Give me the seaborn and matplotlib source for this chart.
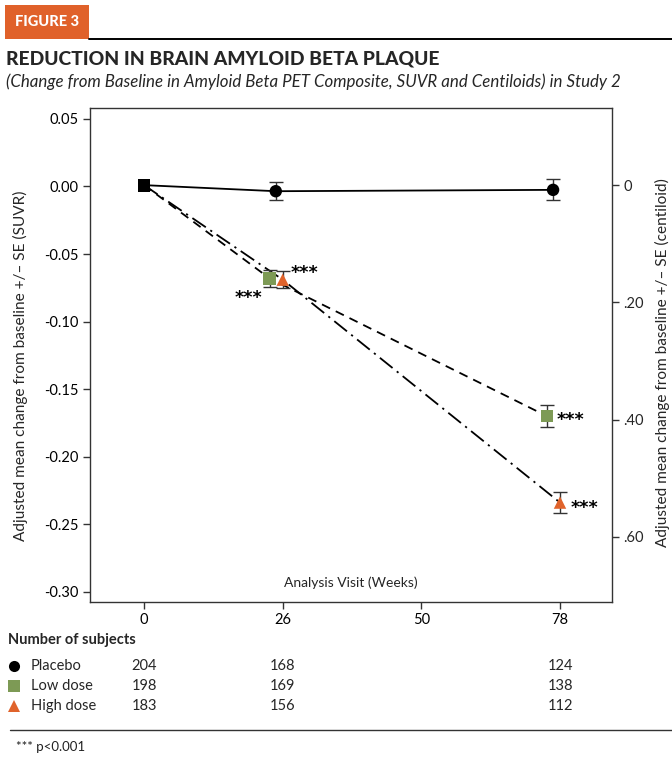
import numpy as np
import pandas as pd
import matplotlib
matplotlib.use("Agg")
import matplotlib.pyplot as plt
import matplotlib.transforms as mtransforms
from matplotlib.patches import Rectangle
from matplotlib.lines import Line2D
import seaborn as sns

# ---------------- data ----------------
groups = ["Placebo", "Low dose", "High dose"]
visit_weeks = [0, 26, 78]
tick_weeks = [0, 26, 50, 78]
tick_labels = ["0", "26", "50", "78"]

placebo_mean = [0.001, -0.0035, -0.0025]
placebo_se = [0.0, 0.0065, 0.0078]
low_mean = [0.001, -0.068, -0.170]
low_se = [0.0, 0.0062, 0.0080]
high_mean = [0.001, -0.069, -0.234]
high_se = [0.0, 0.0065, 0.0080]

n_placebo = [204, 168, 124]
n_low = [198, 169, 138]
n_high = [183, 156, 112]

suvr_ticks = [0.05, 0.00, -0.05, -0.10, -0.15, -0.20, -0.25, -0.30]
centiloid_ticks = [0, 0.20, 0.40, 0.60]
centiloid_labels = ["0", ".20", ".40", ".60"]

# ---------------- styles ----------------
colors = {"Placebo": "black", "Low dose": "#7d9a55", "High dose": "#e0632b"}
markers = {"Placebo": "o", "Low dose": "s", "High dose": "^"}
dodge = {"Placebo": -0.05, "Low dose": -0.095, "High dose": 0.0}
dashes = {"Placebo": "", "Low dose": (5, 3.5), "High dose": (9, 3, 1.2, 3)}
slot = {w: i for i, w in enumerate(tick_weeks)}

means = {"Placebo": placebo_mean, "Low dose": low_mean, "High dose": high_mean}
ses = {"Placebo": placebo_se, "Low dose": low_se, "High dose": high_se}
ns = {"Placebo": n_placebo, "Low dose": n_low, "High dose": n_high}

rows = []
for g in groups:
    for w, m, s in zip(visit_weeks, means[g], ses[g]):
        x = slot[w] + (dodge[g] if w != 0 else 0.0)
        rows.append({"group": g, "week": w, "x": x, "mean": m, "se": s})
df = pd.DataFrame(rows)

sns.set_theme(style="white")
plt.rcParams["font.family"] = ["Lato", "DejaVu Sans"]
plt.rcParams["axes.unicode_minus"] = False

W, H = 672, 758
fig = plt.figure(figsize=(W / 100, H / 100), dpi=100)

def fx(px):
    return px / W

def fy(py):
    return 1 - py / H

ax = fig.add_axes([fx(90), fy(602), fx(612) - fx(90), fy(108) - fy(602)])

sns.lineplot(data=df, x="x", y="mean", hue="group", style="group",
             palette={g: "black" for g in groups}, dashes=dashes,
             hue_order=groups, style_order=groups,
             lw=1.3, legend=False, ax=ax, sort=False, zorder=2)

post = df[df["week"] != 0]
for g in groups:
    sub = post[post["group"] == g]
    ax.errorbar(sub["x"], sub["mean"], yerr=sub["se"], fmt="none",
                ecolor="#333333", elinewidth=1.0, capsize=5, capthick=1.0, zorder=3)
sns.scatterplot(data=post, x="x", y="mean", hue="group", style="group",
                palette=colors, markers=markers, hue_order=groups, style_order=groups,
                s=80, edgecolor="none", legend=False, ax=ax, zorder=4)
base = df[df["week"] == 0].iloc[[0]]
sns.scatterplot(data=base, x="x", y="mean", marker="s", color="black", s=85,
                edgecolor="none", legend=False, ax=ax, zorder=5)

# significance stars: (dx, dy) in pixels of the visual star centre from the marker (dy down +)
star_offsets = {("Low dose", 26): (-21, 15), ("High dose", 26): (22, -12),
                ("Low dose", 78): (24, -1), ("High dose", 78): (24, 0)}
for (g, w), (dx, dy) in star_offsets.items():
    r = df[(df["group"] == g) & (df["week"] == w)].iloc[0]
    ax.annotate("***", (r["x"], r["mean"]), xytext=(dx * 0.72, -(dy + 10) * 0.72),
                textcoords="offset points", ha="center", va="baseline",
                fontsize=12.5, fontweight="bold", color="black", zorder=6,
                family=["DejaVu Sans"])

ax.set_xlim(-0.39, 3.375)
ax.set_ylim(-0.3076, 0.0581)
ax.set_xticks(range(len(tick_weeks)))
ax.set_xticklabels(tick_labels)
ax.set_yticks(suvr_ticks)
ax.set_yticklabels([f"{t:.2f}" for t in suvr_ticks])
ax.set_xlabel("")
ax.set_ylabel("")
for sp in ax.spines.values():
    sp.set_color("#333333")
    sp.set_linewidth(1.0)
    sp.set_visible(True)
ax.tick_params(axis="both", which="both", direction="out", length=5, width=1.0,
               color="#333333", labelsize=10.5, labelcolor="black", pad=3)
ax.tick_params(axis="x", bottom=True, length=5)
ax.tick_params(axis="y", left=True)

ax2 = ax.twinx()
ax2.set_ylim(0.711, -0.1313)
ax2.set_yticks(centiloid_ticks)
ax2.set_yticklabels(centiloid_labels)
ax2.tick_params(axis="y", right=True, direction="out", length=5, width=1.0,
                color="#333333", labelsize=10.5, pad=3)
ax2.grid(False)
for sp in ax2.spines.values():
    sp.set_visible(False)

ax.text(0.5, 0.04, "Analysis Visit (Weeks)", transform=ax.transAxes,
        ha="center", va="center", fontsize=10)

# y labels
fig.text(fx(20), fy(366), "Adjusted mean change from baseline +/\u2013 SE (SUVR)",
         rotation=90, ha="center", va="center", fontsize=11.1)
fig.text(fx(662), fy(363), "Adjusted mean change from baseline +/\u2013 SE (centiloid)",
         rotation=90, ha="center", va="center", fontsize=11.1)

# header
fig.patches.append(Rectangle((fx(5), fy(39)), fx(89) - fx(5), fy(5) - fy(39),
                             transform=fig.transFigure, facecolor="#e0612a",
                             edgecolor="none"))
fig.text(fx(47), fy(22), "FIGURE 3", ha="center", va="center", color="white",
         fontsize=10.5, fontweight="black")
fig.add_artist(Line2D([fx(89), fx(672)], [fy(38.5), fy(38.5)], color="black", lw=1.4))
fig.text(fx(6), fy(59), "REDUCTION IN BRAIN AMYLOID BETA PLAQUE", ha="left",
         va="center", fontsize=13.9, fontweight="black")
fig.text(fx(6), fy(82), "(Change from Baseline in Amyloid Beta PET Composite, SUVR and Centiloids) in Study 2",
         ha="left", va="center", fontsize=12.2, style="italic")

# number of subjects table
fig.text(fx(8), fy(640), "Number of subjects", ha="left", va="center",
         fontsize=10.5, fontweight="bold")
blend = mtransforms.blended_transform_factory(ax.transData, fig.transFigure)
row_y = {"Placebo": 666, "Low dose": 686, "High dose": 706}
for g in groups:
    y = fy(row_y[g])
    fig.add_artist(Line2D([fx(14)], [y], marker=markers[g], color=colors[g],
                          markersize=8 if g != "Placebo" else 8, linestyle="none",
                          markeredgewidth=0, transform=fig.transFigure))
    fig.text(fx(31), y, g, ha="left", va="center", fontsize=10.5)
    for w, n in zip(visit_weeks, ns[g]):
        fig.text(slot[w], y, str(n), ha="center", va="center", fontsize=10.5,
                 transform=blend)

fig.add_artist(Line2D([fx(10), fx(672)], [fy(730), fy(730)], color="#333333", lw=1.0))
fig.text(fx(16), fy(747), "*** p<0.001", ha="left", va="center", fontsize=9.5,
         color="#222222")

fig.savefig("out.png", dpi=100)
